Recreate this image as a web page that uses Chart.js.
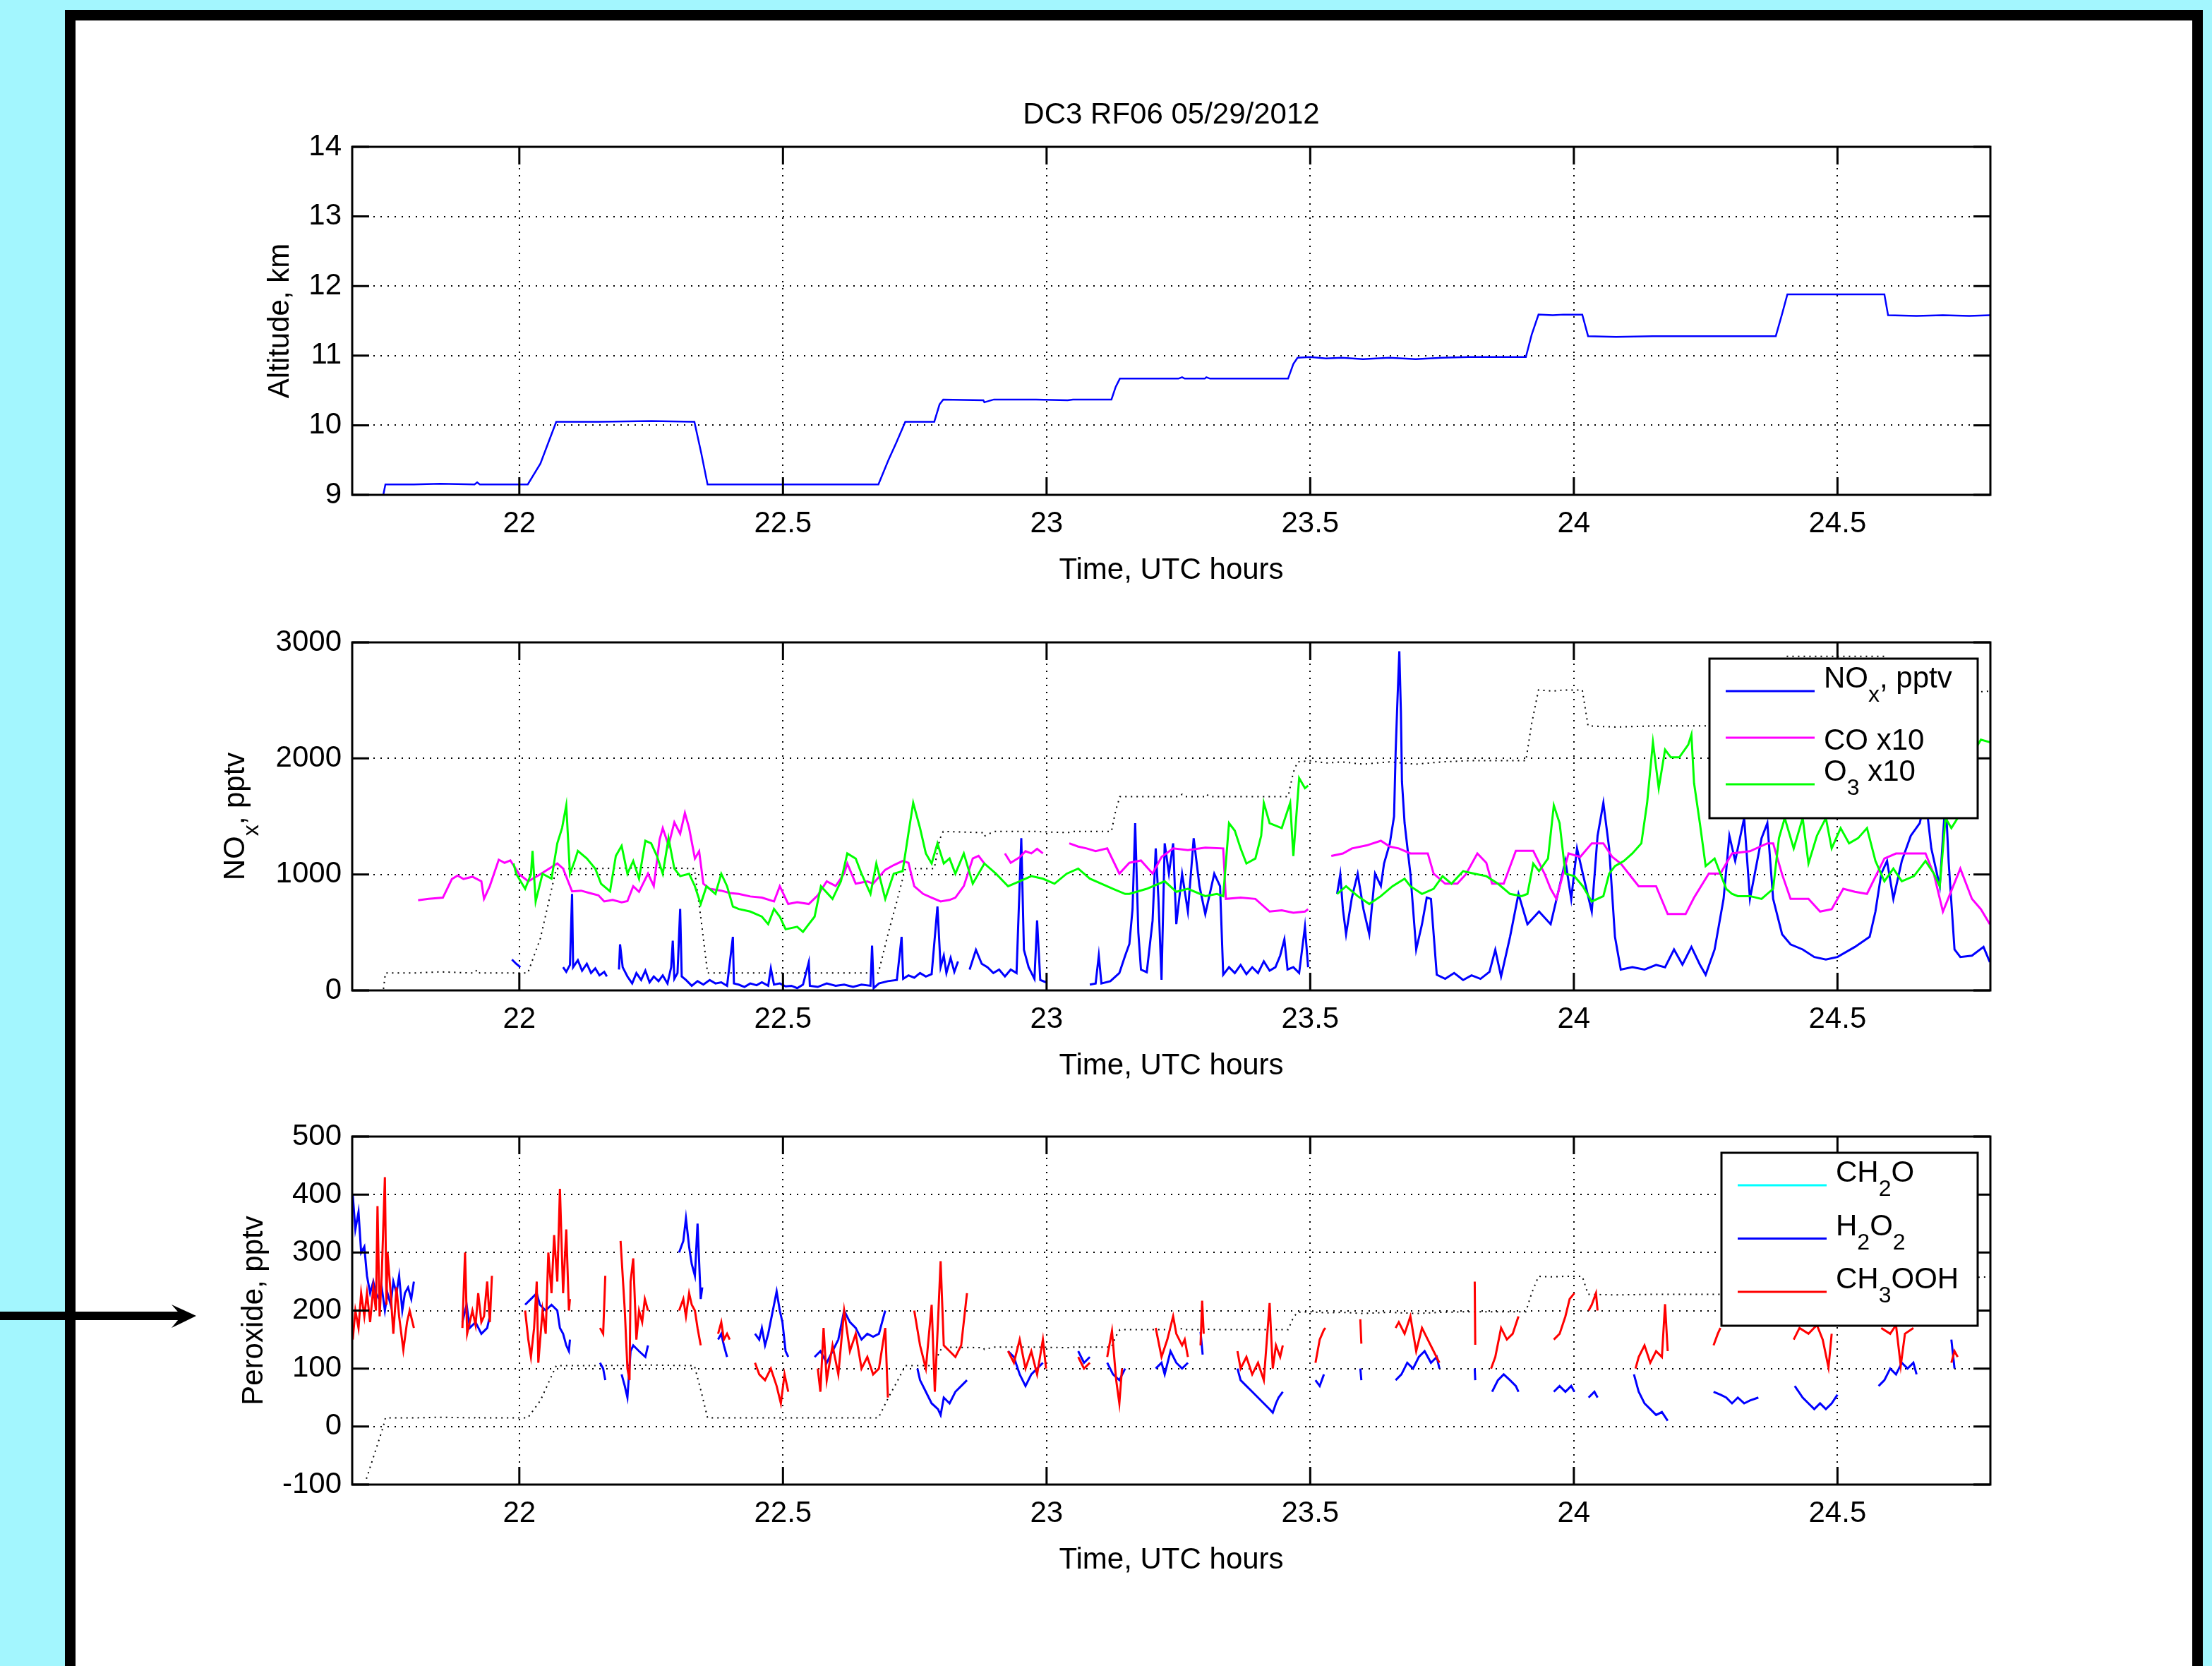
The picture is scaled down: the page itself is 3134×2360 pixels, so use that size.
<!DOCTYPE html>
<html>
<head>
<meta charset="utf-8">
<script src="https://cdn.jsdelivr.net/npm/chart.js@4.4.1/dist/chart.umd.min.js"></script>
<style>
  html, body { margin: 0; padding: 0; }
  body { width: 3134px; height: 2360px; background: #a3f6fe; position: relative; overflow: hidden; }
  #sheet { position: absolute; left: 92px; top: 14px; width: 2999px; height: 2400px; border: 15px solid #000; background: #fff; }
  canvas { position: absolute; left: 300px; }
  #arrow { position: absolute; left: 0; top: 1834px; }
</style>
</head>
<body>
<div id="sheet"></div>
<canvas id="altChart" width="2600" height="751" style="top:100px;width:2600px;height:751px"></canvas>
<canvas id="mixChart" width="2600" height="703" style="top:850px;width:2600px;height:703px"></canvas>
<canvas id="peroxChart" width="2600" height="703" style="top:1550px;width:2600px;height:703px"></canvas>
<svg id="arrow" width="300" height="60">
  <rect x="0" y="24" width="262" height="12" fill="#000"/>
  <polygon points="278,30 243,14 257,30 243,47" fill="#000"/>
</svg>
<script>
// tick values
const hourTicks = [22, 22.5, 23, 23.5, 24, 24.5]
const altTicks = [9, 10, 11, 12, 13, 14]
const mixTicks = [0, 1000, 2000, 3000]
const peroxTicks = [-100, 0, 100, 200, 300, 400, 500]

// altitude, km
const altTime = [
  21.710, 21.742, 21.746, 21.800, 21.850, 21.915, 21.920, 21.925, 21.970, 22.016,
  22.040, 22.055, 22.070, 22.150, 22.250, 22.332, 22.345, 22.357, 22.450, 22.550,
  22.681, 22.700, 22.715, 22.732, 22.787, 22.797, 22.804, 22.880, 22.882, 22.900,
  22.980, 23.040, 23.050, 23.123, 23.131, 23.139, 23.250, 23.257, 23.262, 23.300,
  23.303, 23.310, 23.458, 23.468, 23.476, 23.500, 23.530, 23.560, 23.600, 23.650,
  23.700, 23.750, 23.800, 23.909, 23.920, 23.933, 23.960, 23.980, 24.016, 24.027,
  24.080, 24.150, 24.250, 24.300, 24.383, 24.395, 24.405, 24.500, 24.589, 24.596,
  24.650, 24.700, 24.750, 24.790
]
const altKm = [
  8.10, 9.00, 9.15, 9.15, 9.16, 9.15, 9.18, 9.15, 9.15, 9.15,
  9.45, 9.75, 10.05, 10.05, 10.06, 10.05, 9.60, 9.15, 9.15, 9.15,
  9.15, 9.50, 9.75, 10.05, 10.05, 10.30, 10.37, 10.36, 10.33, 10.37,
  10.37, 10.36, 10.37, 10.37, 10.55, 10.67, 10.67, 10.69, 10.67, 10.67,
  10.69, 10.67, 10.67, 10.88, 10.97, 10.98, 10.96, 10.97, 10.95, 10.97,
  10.95, 10.97, 10.98, 10.98, 11.30, 11.59, 11.58, 11.59, 11.59, 11.28,
  11.27, 11.28, 11.28, 11.28, 11.28, 11.60, 11.88, 11.88, 11.88, 11.58,
  11.57, 11.58, 11.57, 11.58
]

// NOx, pptv
const noxTime = [
  21.986, 21.994, 22.002, null, 22.083, 22.089, 22.096, 22.100, 22.102, 22.111,
  22.119, 22.128, 22.136, 22.144, 22.152, 22.161, 22.166, null, 22.189, 22.191,
  22.196, 22.205, 22.214, 22.222, 22.231, 22.239, 22.247, 22.255, 22.264, 22.272,
  22.281, 22.288, 22.291, 22.294, 22.300, 22.305, 22.308, 22.316, 22.327, 22.338,
  22.349, 22.361, 22.372, 22.383, 22.394, 22.405, 22.407, 22.416, 22.427, 22.438,
  22.450, 22.460, 22.472, 22.477, 22.483, 22.494, 22.505, 22.516, 22.527, 22.538,
  22.549, 22.551, 22.566, 22.583, 22.600, 22.616, 22.633, 22.649, 22.666, 22.669,
  22.672, 22.682, 22.699, 22.716, 22.725, 22.728, 22.738, 22.749, 22.760, 22.771,
  22.782, 22.793, 22.799, 22.805, 22.810, 22.818, 22.825, 22.832, null, 22.854,
  22.866, 22.877, 22.888, 22.899, 22.910, 22.921, 22.932, 22.943, 22.952, 22.957,
  22.966, 22.977, 22.982, 22.988, 22.999, null, 23.082, 23.093, 23.099, 23.104,
  23.121, 23.138, 23.149, 23.157, 23.163, 23.168, 23.174, 23.179, 23.190, 23.201,
  23.207, 23.212, 23.218, 23.224, 23.232, 23.240, 23.246, 23.257, 23.268, 23.279,
  23.290, 23.301, 23.318, 23.329, 23.335, 23.346, 23.357, 23.368, 23.379, 23.390,
  23.401, 23.412, 23.423, 23.434, 23.443, 23.451, 23.457, 23.468, 23.479, 23.490,
  23.496, null, 23.551, 23.557, 23.562, 23.568, 23.579, 23.590, 23.601, 23.612,
  23.623, 23.634, 23.640, 23.651, 23.659, 23.662, 23.665, 23.669, 23.672, 23.674,
  23.679, 23.690, 23.701, 23.712, 23.721, 23.729, 23.740, 23.756, 23.773, 23.790,
  23.806, 23.823, 23.840, 23.851, 23.862, 23.879, 23.895, 23.912, 23.934, 23.956,
  23.973, 23.984, 23.995, 24.006, 24.017, 24.034, 24.045, 24.056, 24.067, 24.078,
  24.089, 24.111, 24.134, 24.156, 24.173, 24.190, 24.206, 24.223, 24.239, 24.250,
  24.267, 24.284, 24.295, 24.306, 24.323, 24.334, 24.356, 24.367, 24.378, 24.395,
  24.411, 24.434, 24.456, 24.478, 24.500, 24.533, 24.561, 24.572, 24.583, 24.594,
  24.606, 24.622, 24.639, 24.656, 24.667, 24.678, 24.694, 24.705, 24.711, 24.722,
  24.733, 24.755, 24.777, 24.789
]
const noxPptv = [
  266, 230, 200, null, 200, 160, 220, 832, 200, 260,
  170, 230, 150, 190, 130, 160, 120, null, 180, 397,
  200, 120, 60, 150, 90, 170, 70, 120, 80, 130,
  60, 200, 429, 100, 150, 702, 120, 90, 40, 80,
  50, 90, 60, 70, 40, 462, 60, 50, 30, 60,
  45, 70, 40, 190, 50, 60, 35, 40, 20, 50,
  244, 40, 30, 60, 40, 50, 30, 50, 40, 386,
  20, 60, 80, 90, 462, 100, 130, 110, 150, 120,
  140, 723, 200, 300, 150, 280, 160, 250, null, 180,
  350, 230, 200, 150, 180, 120, 180, 150, 1312, 350,
  200, 100, 604, 90, 70, null, 50, 60, 300, 60,
  80, 150, 300, 400, 700, 1442, 500, 179, 157, 600,
  1224, 800, 91, 1268, 1006, 1268, 571, 1006, 680, 1312,
  898, 658, 1006, 898, 135, 200, 150, 220, 140, 200,
  150, 250, 170, 200, 300, 440, 180, 200, 150, 549,
  200, null, 832, 1000, 700, 484, 800, 1006, 700, 484,
  1006, 900, 1094, 1268, 1500, 2053, 2445, 2924, 2400, 1800,
  1442, 1006, 353, 571, 800, 789, 135, 100, 150, 90,
  130, 100, 160, 350, 120, 462, 832, 571, 680, 571,
  898, 1116, 789, 1224, 1006, 680, 1333, 1617, 1224, 462,
  179, 200, 180, 220, 200, 353, 222, 375, 222, 135,
  353, 789, 1333, 1116, 1486, 789, 1312, 1442, 789, 484,
  397, 353, 288, 266, 288, 375, 462, 680, 1006, 1116,
  789, 1116, 1333, 1442, 1660, 1224, 898, 1660, 1100, 353,
  288, 300, 375, 244
]

// CO x10
const coTime = [
  21.808, 21.828, 21.855, 21.872, 21.883, 21.894, 21.911, 21.928, 21.933, 21.944,
  21.961, 21.972, 21.983, 22.000, 22.017, 22.039, 22.072, 22.083, 22.100, 22.117,
  22.133, 22.150, 22.161, 22.177, 22.194, 22.205, 22.216, 22.227, 22.244, 22.255,
  22.266, 22.272, 22.283, 22.294, 22.305, 22.314, 22.322, 22.333, 22.341, 22.349,
  22.361, 22.383, 22.399, 22.416, 22.438, 22.460, 22.483, 22.494, 22.510, 22.527,
  22.549, 22.566, 22.583, 22.600, 22.616, 22.622, 22.638, 22.660, 22.671, 22.694,
  22.710, 22.727, 22.738, 22.749, 22.766, 22.782, 22.799, 22.816, 22.827, 22.843,
  22.860, 22.871, 22.882, null, 22.921, 22.932, 22.949, 22.960, 22.971, 22.982,
  22.993, null, 23.043, 23.060, 23.076, 23.093, 23.115, 23.138, 23.157, 23.179,
  23.201, 23.218, 23.240, 23.268, 23.301, 23.335, 23.340, 23.368, 23.396, 23.423,
  23.446, 23.468, 23.490, 23.496, null, 23.540, 23.562, 23.579, 23.607, 23.634,
  23.651, 23.668, 23.690, 23.723, 23.734, 23.756, 23.779, 23.795, 23.817, 23.834,
  23.845, 23.867, 23.890, 23.923, 23.945, 23.956, 23.967, 23.990, 24.012, 24.034,
  24.056, 24.073, 24.089, 24.123, 24.156, 24.178, 24.212, 24.228, 24.256, 24.278,
  24.300, 24.334, 24.367, 24.378, 24.395, 24.411, 24.445, 24.467, 24.489, 24.511,
  24.533, 24.556, 24.589, 24.611, 24.633, 24.667, 24.683, 24.700, 24.733, 24.755,
  24.772, 24.789
]
const coX10 = [
  778, 790, 800, 960, 990, 960, 980, 940, 790, 900,
  1127, 1100, 1120, 1000, 940, 1000, 1094, 1050, 854, 860,
  840, 820, 767, 780, 760, 770, 898, 850, 1007, 900,
  1300, 1399, 1250, 1450, 1350, 1530, 1400, 1137, 1200, 920,
  876, 860, 840, 832, 810, 800, 767, 898, 745, 760,
  745, 820, 941, 900, 1007, 1094, 920, 940, 920, 1040,
  1080, 1116, 1100, 898, 832, 800, 767, 780, 800, 900,
  1137, 1160, 1094, null, 1181, 1100, 1148, 1200, 1181, 1220,
  1181, null, 1268, 1240, 1224, 1200, 1224, 1007, 1100, 1120,
  1007, 1150, 1224, 1210, 1230, 1224, 789, 800, 789, 680,
  690, 670, 680, 700, null, 1159, 1180, 1224, 1250, 1290,
  1240, 1224, 1181, 1181, 1007, 920, 920, 1000, 1181, 1100,
  920, 920, 1203, 1203, 1000, 876, 789, 1181, 1150, 1268,
  1268, 1150, 1094, 898, 898, 658, 658, 800, 1007, 1007,
  1181, 1200, 1268, 1268, 1000, 789, 789, 680, 700, 876,
  850, 832, 1137, 1180, 1181, 1181, 1000, 680, 1050, 789,
  700, 571
]

// O3 x10
const o3Time = [
  21.989, 21.994, 22.011, 22.022, 22.025, 22.031, 22.044, 22.061, 22.072, 22.081,
  22.089, 22.096, 22.105, 22.111, 22.128, 22.144, 22.155, 22.172, 22.183, 22.194,
  22.205, 22.216, 22.227, 22.239, 22.250, 22.261, 22.272, 22.283, 22.294, 22.305,
  22.322, 22.333, 22.344, 22.355, 22.372, 22.383, 22.394, 22.405, 22.416, 22.438,
  22.460, 22.472, 22.483, 22.494, 22.505, 22.527, 22.538, 22.549, 22.560, 22.572,
  22.594, 22.610, 22.622, 22.638, 22.649, 22.666, 22.677, 22.694, 22.710, 22.727,
  22.738, 22.747, 22.760, 22.771, 22.782, 22.793, 22.805, 22.816, 22.827, 22.843,
  22.860, 22.882, 22.904, 22.927, 22.949, 22.971, 22.993, 23.015, 23.038, 23.060,
  23.082, 23.104, 23.126, 23.149, 23.157, 23.190, 23.224, 23.246, 23.268, 23.301,
  23.323, 23.335, 23.346, 23.357, 23.368, 23.379, 23.396, 23.407, 23.412, 23.423,
  23.446, 23.462, 23.468, 23.479, 23.490, 23.496, null, 23.551, 23.568, 23.590,
  23.612, 23.634, 23.656, 23.679, 23.690, 23.712, 23.734, 23.751, 23.768, 23.790,
  23.812, 23.834, 23.856, 23.879, 23.901, 23.912, 23.923, 23.934, 23.951, 23.962,
  23.973, 23.984, 24.001, 24.017, 24.034, 24.056, 24.067, 24.078, 24.095, 24.111,
  24.128, 24.139, 24.150, 24.161, 24.173, 24.184, 24.200, 24.217, 24.223, 24.228,
  24.239, 24.250, 24.267, 24.278, 24.289, 24.300, 24.311, 24.334, 24.356, 24.378,
  24.389, 24.400, 24.417, 24.434, 24.445, 24.461, 24.478, 24.489, 24.506, 24.522,
  24.539, 24.556, 24.572, 24.589, 24.606, 24.622, 24.645, 24.667, 24.683, 24.694,
  24.705, 24.716, 24.728, 24.739, 24.755, 24.772, 24.789
]
const o3X10 = [
  1094, 1006, 876, 1000, 1203, 767, 1006, 963, 1268, 1399,
  1595, 1006, 1116, 1203, 1137, 1050, 920, 854, 1159, 1246,
  1006, 1116, 963, 1290, 1268, 1159, 1006, 1312, 1050, 985,
  1006, 898, 745, 898, 832, 1006, 898, 723, 702, 680,
  636, 571, 702, 636, 527, 549, 505, 571, 636, 898,
  789, 941, 1181, 1137, 1006, 832, 1094, 789, 1006, 1028,
  1355, 1617, 1399, 1181, 1094, 1268, 1094, 1137, 1006, 1181,
  920, 1094, 1006, 898, 941, 985, 963, 920, 1006, 1050,
  963, 920, 876, 832, 832, 876, 941, 850, 876, 813,
  832, 813, 1442, 1377, 1224, 1094, 1137, 1333, 1617, 1442,
  1399, 1617, 1159, 1830, 1743, 1765, null, 832, 898, 813,
  745, 813, 898, 963, 898, 832, 876, 985, 920, 1028,
  1006, 985, 920, 832, 813, 832, 1094, 1028, 1137, 1595,
  1442, 1006, 985, 898, 767, 813, 1006, 1072, 1116, 1181,
  1268, 1617, 2140, 1743, 2075, 2009, 2009, 2118, 2205, 1787,
  1442, 1072, 1137, 1006, 876, 832, 813, 813, 789, 876,
  1312, 1486, 1224, 1486, 1094, 1333, 1486, 1224, 1399, 1268,
  1312, 1399, 1116, 941, 1050, 941, 985, 1116, 1006, 898,
  1486, 1399, 1486, 1769, 2031, 2162, 2140
]

// CH3OOH, pptv
const ch3oohTime = [
  21.684, 21.689, 21.695, 21.700, 21.706, 21.711, 21.717, 21.723, 21.728, 21.731,
  21.735, 21.739, 21.745, 21.748, 21.750, 21.756, 21.761, 21.767, 21.772, 21.780,
  21.787, 21.792, 21.800, null, 21.892, 21.897, 21.901, 21.911, 21.917, 21.922,
  21.928, 21.933, 21.939, 21.944, 21.948, null, 22.011, 22.017, 22.022, 22.028,
  22.033, 22.036, 22.044, 22.050, 22.055, 22.061, 22.066, 22.072, 22.077, 22.083,
  22.089, 22.094, 22.096, null, 22.153, 22.159, 22.163, null, 22.192, 22.200,
  22.205, 22.209, 22.211, 22.216, 22.222, 22.227, 22.233, 22.238, 22.244, null,
  22.303, 22.311, 22.316, 22.322, 22.327, 22.333, 22.338, 22.344, null, 22.377,
  22.383, 22.388, 22.394, 22.399, null, 22.447, 22.455, 22.466, 22.477, 22.488,
  22.496, 22.503, 22.510, null, 22.566, 22.571, 22.577, 22.583, 22.594, 22.605,
  22.616, 22.627, 22.638, 22.649, 22.660, 22.671, 22.682, 22.694, 22.699, null,
  22.749, 22.760, 22.771, 22.782, 22.788, 22.794, 22.799, 22.805, 22.816, 22.827,
  22.838, 22.849, null, 22.927, 22.938, 22.949, 22.960, 22.971, 22.982, 22.993,
  22.999, null, 23.060, 23.071, 23.082, null, 23.115, 23.124, 23.132, 23.138,
  23.143, null, 23.207, 23.218, 23.229, 23.240, 23.246, 23.257, 23.262, 23.268,
  null, 23.292, 23.295, 23.298, null, 23.362, 23.368, 23.379, 23.390, 23.401,
  23.412, 23.423, 23.429, 23.435, 23.443, 23.448, null, 23.510, 23.518, 23.526,
  23.529, null, 23.595, 23.597, null, 23.662, 23.668, 23.679, 23.690, 23.701,
  23.712, 23.723, 23.734, 23.745, null, 23.812, 23.813, null, 23.843, 23.851,
  23.862, 23.873, 23.884, 23.895, null, 23.962, 23.973, 23.984, 23.992, 24.001,
  null, 24.028, 24.034, 24.042, 24.045, null, 24.117, 24.123, 24.134, 24.145,
  24.156, 24.167, 24.173, 24.178, null, 24.265, 24.273, 24.278, null, 24.417,
  24.428, 24.445, 24.461, 24.472, 24.483, 24.489, null, 24.583, 24.600, 24.611,
  24.620, 24.628, 24.644, null, 24.716, 24.722, 24.728
]
const ch3oohPptv = [
  150, 200, 170, 230, 190, 230, 180, 240, 200, 380,
  190, 260, 430, 210, 300, 230, 160, 240, 190, 132,
  180, 200, 170, null, 170, 300, 160, 200, 175, 230,
  180, 190, 250, 180, 260, null, 200, 150, 120, 170,
  250, 110, 200, 160, 300, 230, 330, 250, 410, 230,
  340, 200, 220, null, 170, 160, 260, null, 320, 200,
  100, 80, 250, 290, 150, 200, 180, 220, 200, null,
  200, 220, 190, 230, 210, 200, 170, 140, null, 160,
  180, 150, 160, 150, null, 110, 90, 80, 100, 70,
  40, 90, 60, null, 100, 60, 170, 80, 140, 90,
  200, 130, 160, 100, 120, 90, 100, 170, 50, null,
  200, 140, 100, 210, 60, 180, 285, 140, 130, 120,
  140, 230, null, 130, 110, 150, 100, 130, 90, 150,
  100, null, 120, 100, 110, null, 120, 165, 80, 40,
  100, null, 170, 120, 150, 190, 160, 140, 150, 120,
  null, 140, 217, 160, null, 130, 100, 120, 90, 110,
  80, 213, 100, 140, 120, 140, null, 110, 150, 167,
  170, null, 185, 143, null, 170, 180, 160, 190, 130,
  170, 150, 130, 110, null, 250, 141, null, 100, 120,
  170, 150, 160, 190, null, 150, 160, 190, 220, 230,
  null, 200, 210, 230, 200, null, 100, 120, 140, 110,
  130, 120, 211, 130, null, 140, 160, 170, null, 150,
  170, 160, 175, 150, 102, 160, null, 170, 160, 175,
  105, 160, 170, null, 110, 130, 120
]

// H2O2, pptv
const h2o2Time = [
  21.684, 21.689, 21.695, 21.700, 21.706, 21.711, 21.717, 21.723, 21.728, 21.734,
  21.739, 21.745, 21.750, 21.756, 21.761, 21.767, 21.772, 21.778, 21.783, 21.789,
  21.795, 21.800, null, 21.892, 21.900, 21.906, 21.917, 21.928, 21.939, 21.944,
  null, 22.011, 22.022, 22.033, 22.039, 22.050, 22.061, 22.072, 22.077, 22.083,
  22.089, 22.094, 22.096, null, 22.153, 22.159, 22.163, null, 22.194, 22.200,
  22.205, 22.211, 22.216, 22.227, 22.239, 22.244, null, 22.303, 22.311, 22.316,
  22.322, 22.327, 22.333, 22.338, 22.344, 22.347, null, 22.377, 22.383, 22.388,
  22.394, null, 22.447, 22.455, 22.460, 22.466, 22.472, 22.483, 22.488, 22.494,
  22.499, 22.505, 22.510, null, 22.560, 22.571, 22.583, 22.594, 22.605, 22.616,
  22.627, 22.638, 22.649, 22.660, 22.671, 22.682, 22.694, null, 22.755, 22.760,
  22.771, 22.782, 22.794, 22.799, 22.805, 22.816, 22.827, 22.838, 22.849, null,
  22.927, 22.938, 22.949, 22.960, 22.971, 22.982, 22.993, null, 23.060, 23.071,
  23.082, null, 23.115, 23.126, 23.138, 23.149, null, 23.207, 23.218, 23.224,
  23.235, 23.246, 23.257, 23.268, null, 23.292, 23.296, null, 23.362, 23.368,
  23.379, 23.390, 23.401, 23.412, 23.423, 23.429, 23.435, 23.440, 23.448, null,
  23.510, 23.518, 23.526, null, 23.595, 23.597, null, 23.662, 23.673, 23.684,
  23.695, 23.706, 23.717, 23.729, 23.740, 23.745, null, 23.812, 23.813, null,
  23.845, 23.856, 23.867, 23.879, 23.890, 23.895, null, 23.962, 23.973, 23.984,
  23.995, 24.001, null, 24.028, 24.039, 24.045, null, 24.114, 24.123, 24.134,
  24.145, 24.156, 24.167, 24.178, null, 24.265, 24.278, 24.289, 24.300, 24.311,
  24.323, 24.334, 24.350, null, 24.419, 24.434, 24.445, 24.456, 24.467, 24.478,
  24.489, 24.500, null, 24.578, 24.589, 24.600, 24.611, 24.622, 24.633, 24.644,
  24.650, null, 24.716, 24.722
]
const h2o2Pptv = [
  400, 340, 370, 300, 310, 260, 230, 250, 230, 220,
  240, 200, 230, 210, 250, 230, 260, 200, 230, 240,
  220, 250, null, 180, 210, 170, 180, 160, 170, 190,
  null, 210, 220, 230, 210, 200, 210, 200, 170, 160,
  140, 130, 150, null, 110, 100, 80, null, 90, 70,
  50, 130, 140, 130, 120, 140, null, 300, 320, 359,
  310, 280, 260, 350, 220, 240, null, 150, 160, 140,
  120, null, 160, 150, 170, 140, 160, 210, 233, 200,
  180, 130, 120, null, 120, 130, 110, 130, 150, 200,
  180, 170, 150, 160, 155, 160, 200, null, 100, 80,
  60, 40, 30, 20, 50, 40, 60, 70, 80, null,
  130, 120, 90, 70, 90, 100, 110, null, 130, 110,
  120, null, 110, 90, 80, 100, null, 100, 110, 90,
  130, 110, 100, 110, null, 163, 124, null, 100, 80,
  70, 60, 50, 40, 30, 24, 40, 50, 60, null,
  80, 70, 90, null, 100, 80, null, 80, 90, 110,
  100, 120, 130, 110, 120, 100, null, 100, 80, null,
  60, 80, 90, 80, 70, 60, null, 60, 70, 60,
  70, 60, null, 50, 60, 50, null, 90, 60, 40,
  30, 20, 25, 10, null, 60, 55, 50, 40, 50,
  40, 45, 50, null, 70, 50, 40, 30, 40, 30,
  40, 55, null, 70, 80, 100, 90, 110, 100, 110,
  90, null, 150, 100
]

const FONT = '"Liberation Sans", Arial, Helvetica, sans-serif'
Chart.defaults.font.family = FONT
Chart.defaults.font.size = 42
Chart.defaults.color = '#000'

const series = (ts, vs) => ts.map((t, i) => ({ x: t, y: vs[i] }))

// "NO_{x}" -> parts with subscripts
function parseRich(text) {
  const parts = []
  const re = /_\{([^}]*)\}/g
  let last = 0
  let m
  while ((m = re.exec(text))) {
    if (m.index > last) parts.push({ t: text.slice(last, m.index), sub: false })
    parts.push({ t: m[1], sub: true })
    last = re.lastIndex
  }
  if (last < text.length) parts.push({ t: text.slice(last), sub: false })
  return parts
}

function richWidth(ctx, parts) {
  let w = 0
  parts.forEach((p) => {
    ctx.font = (p.sub ? '32px ' : '42px ') + FONT
    w += ctx.measureText(p.t).width
  })
  return w
}

function drawRich(ctx, parts, x, y) {
  parts.forEach((p) => {
    ctx.font = (p.sub ? '32px ' : '42px ') + FONT
    ctx.fillText(p.t, x, p.sub ? y + 20 : y)
    x += ctx.measureText(p.t).width
  })
}

// box with inward ticks on all four sides
const framePlugin = {
  id: 'frame',
  afterDatasetsDraw(chart) {
    const { ctx, chartArea: a, scales } = chart
    ctx.save()
    ctx.strokeStyle = '#000'
    ctx.lineWidth = 3
    ctx.strokeRect(a.left, a.top, a.right - a.left, a.bottom - a.top)
    ctx.beginPath()
    scales.x.ticks.forEach((t) => {
      const px = scales.x.getPixelForValue(t.value)
      ctx.moveTo(px, a.bottom); ctx.lineTo(px, a.bottom - 25)
      ctx.moveTo(px, a.top); ctx.lineTo(px, a.top + 25)
    })
    scales.y.ticks.forEach((t) => {
      const py = scales.y.getPixelForValue(t.value)
      ctx.moveTo(a.left, py); ctx.lineTo(a.left + 24, py)
      ctx.moveTo(a.right, py); ctx.lineTo(a.right - 24, py)
    })
    ctx.stroke()
    ctx.restore()
  },
}

const yTitlePlugin = {
  id: 'yTitle',
  afterDraw(chart, args, opts) {
    if (!opts.text) return
    const { ctx, chartArea: a, scales } = chart
    ctx.save()
    ctx.font = '42px ' + FONT
    const widest = Math.max(...scales.y.ticks.map((t) => ctx.measureText(String(t.value)).width))
    const parts = parseRich(opts.text)
    const hasSub = parts.some((p) => p.sub)
    const bx = a.left - 15 - widest - 28 - (hasSub ? 17 : 0)
    const cy = (a.top + a.bottom) / 2
    ctx.translate(bx, cy)
    ctx.rotate(-Math.PI / 2)
    ctx.fillStyle = '#000'
    ctx.textBaseline = 'alphabetic'
    drawRich(ctx, parts, -richWidth(ctx, parts) / 2, 0)
    ctx.restore()
  },
}

const boxLegendPlugin = {
  id: 'boxLegend',
  afterDraw(chart, args, opts) {
    if (!opts.width) return
    const { ctx, chartArea: a } = chart
    const x0 = a.right - 18 - opts.width
    const y0 = a.top + 23
    ctx.save()
    ctx.fillStyle = '#fff'
    ctx.fillRect(x0, y0, opts.width, opts.height)
    ctx.strokeStyle = '#000'
    ctx.lineWidth = 3
    ctx.strokeRect(x0, y0, opts.width, opts.height)
    const items = chart.data.datasets.filter((d) => !d.noLegend)
    items.forEach((d, i) => {
      const ly = y0 + opts.firstRow + i * opts.rowGap
      ctx.strokeStyle = d.borderColor
      ctx.lineWidth = 3
      ctx.beginPath()
      ctx.moveTo(x0 + 23, ly)
      ctx.lineTo(x0 + 149, ly)
      ctx.stroke()
      const parts = parseRich(d.label)
      const hasSub = parts.some((p) => p.sub)
      ctx.fillStyle = '#000'
      ctx.textBaseline = 'alphabetic'
      drawRich(ctx, parts, x0 + 162, hasSub ? ly - 5 : ly + 17)
    })
    ctx.restore()
  },
}

const dotted = { color: '#000', lineWidth: 2, drawTicks: false }

function makeScales(yMin, yMax, yTickVals) {
  return {
    x: {
      type: 'linear',
      min: 21.683,
      max: 24.79,
      afterBuildTicks: (s) => { s.ticks = hourTicks.map((v) => ({ value: v })) },
      afterFit: (s) => { s.height = 150 },
      grid: dotted,
      border: { display: false, dash: [2, 8] },
      ticks: { padding: 16, maxRotation: 0, autoSkip: false, callback: (v) => String(v) },
      title: { display: true, text: 'Time, UTC hours', padding: { top: 0, bottom: 17 } },
    },
    y: {
      type: 'linear',
      min: yMin,
      max: yMax,
      afterBuildTicks: (s) => { s.ticks = yTickVals.map((v) => ({ value: v })) },
      afterFit: (s) => { s.width = 199 },
      grid: dotted,
      border: { display: false, dash: [2, 8] },
      ticks: { padding: 15, autoSkip: false, callback: (v) => String(v) },
    },
  }
}

function baseOptions(yMin, yMax, yTickVals, extra) {
  return {
    responsive: false,
    devicePixelRatio: 1,
    animation: false,
    events: [],
    layout: { padding: { top: extra.padTop, right: 80, left: 0, bottom: 0 } },
    elements: { point: { radius: 0 }, line: { tension: 0, borderWidth: 3 } },
    scales: makeScales(yMin, yMax, yTickVals),
    plugins: {
      legend: { display: false },
      tooltip: { enabled: false },
      title: extra.title || { display: false },
      yTitle: { text: extra.yTitle },
      boxLegend: extra.legend || {},
    },
  }
}

const plugins = [framePlugin, yTitlePlugin, boxLegendPlugin]

new Chart(document.getElementById('altChart').getContext('2d'), {
  type: 'line',
  data: {
    datasets: [
      { label: 'Altitude', data: series(altTime, altKm), borderColor: '#0000ff', borderWidth: 2.5, noLegend: true },
    ],
  },
  options: baseOptions(9, 14, altTicks, {
    padTop: 0,
    yTitle: 'Altitude, km',
    title: {
      display: true,
      text: 'DC3 RF06 05/29/2012',
      fullSize: false,
      font: { size: 42, weight: 'normal' },
      padding: { top: 38, bottom: 19.6 },
    },
  }),
  plugins,
})

new Chart(document.getElementById('mixChart').getContext('2d'), {
  type: 'line',
  data: {
    datasets: [
      { label: 'NO_{x}, pptv', data: series(noxTime, noxPptv), borderColor: '#0000ff', order: 2 },
      { label: 'CO x10', data: series(coTime, coX10), borderColor: '#ff00ff', order: 1 },
      { label: 'O_{3} x10', data: series(o3Time, o3X10), borderColor: '#00ff00', order: 0 },
      {
        label: 'Altitude',
        data: series(altTime, altKm.map((a) => (a - 9) * 1000)),
        borderColor: '#000',
        borderWidth: 2,
        borderDash: [2, 6],
        order: 3,
        noLegend: true,
      },
    ],
  },
  options: baseOptions(0, 3000, mixTicks, {
    padTop: 60,
    yTitle: 'NO_{x}, pptv',
    legend: { width: 380, height: 226, firstRow: 46, rowGap: 66 },
  }),
  plugins,
})

new Chart(document.getElementById('peroxChart').getContext('2d'), {
  type: 'line',
  data: {
    datasets: [
      { label: 'CH_{2}O', data: [], borderColor: '#00ffff', order: 3 },
      { label: 'H_{2}O_{2}', data: series(h2o2Time, h2o2Pptv), borderColor: '#0000ff', order: 1 },
      { label: 'CH_{3}OOH', data: series(ch3oohTime, ch3oohPptv), borderColor: '#ff0000', order: 0 },
      {
        label: 'Altitude',
        data: series(altTime, altKm.map((a) => (a - 9) * 100)),
        borderColor: '#000',
        borderWidth: 2,
        borderDash: [2, 6],
        order: 2,
        noLegend: true,
      },
    ],
  },
  options: baseOptions(-100, 500, peroxTicks, {
    padTop: 60,
    yTitle: 'Peroxide, pptv',
    legend: { width: 363, height: 245, firstRow: 46, rowGap: 75.5 },
  }),
  plugins,
})
</script>
</body>
</html>
